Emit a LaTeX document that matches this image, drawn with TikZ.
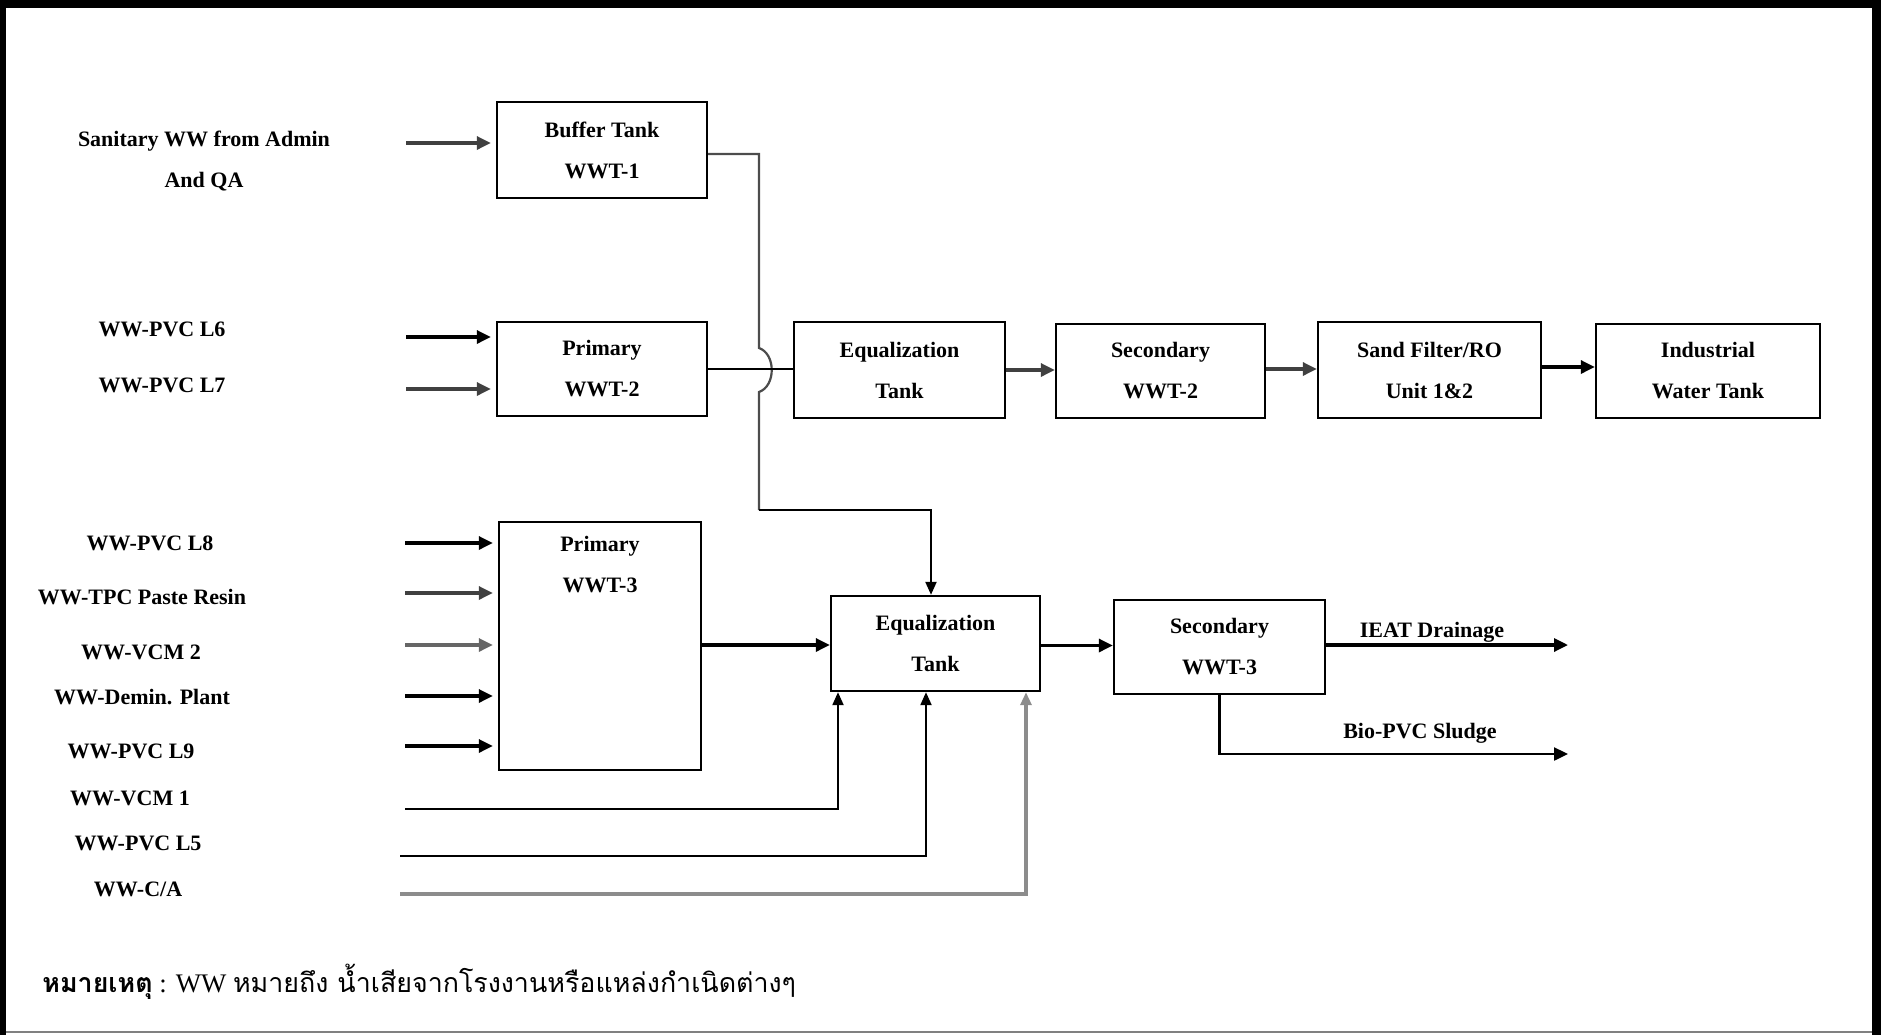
\documentclass[tikz,border=0pt]{standalone}
\usepackage{fontspec}
\setmainfont{Liberation Serif}
\newfontfamily\thaifont[Script=Thai]{Loma}
\usetikzlibrary{arrows.meta,calc}
\begin{document}
\begin{tikzpicture}[x=0.5pt,y=-0.5pt,
  box/.style={draw, line width=1.2pt, inner sep=0pt, align=center, font=\bfseries\fontsize{11}{13.5}\selectfont},
  lbl/.style={align=center, inner sep=0pt, font=\bfseries\fontsize{11}{13.5}\selectfont},
  arr/.style={line width=1.6pt, -{Triangle[length=7pt,width=6.5pt]}, shorten >=2.5pt},
  arrin/.style={line width=1.6pt, -{Triangle[length=7pt,width=6.5pt]}},
  conn/.style={line width=1.1pt},
  upline/.style={line width=1.1pt, -{Triangle[length=6.5pt,width=5.5pt]}},
  darkgray/.style={draw=black!75}]
\useasboundingbox (0,0) rectangle (1881,1035);
% frame
\fill[black] (0,0) rectangle (1881,8);
\fill[black] (0,0) rectangle (6,1035);
\fill[black] (1872,0) rectangle (1881,1035);
\draw[black!50, line width=1pt] (6,1032) -- (1872,1032);

% boxes
\node[box, minimum width=105pt, minimum height=48pt] (buf) at (602,150) {Buffer Tank\\[7pt]WWT-1};
\node[box, minimum width=105pt, minimum height=47pt] (p2) at (602,369) {Primary\\[7pt]WWT-2};
\node[box, minimum width=105.5pt, minimum height=48pt] (eq1) at (899.5,370) {Equalization\\[7pt]Tank};
\node[box, minimum width=104.5pt, minimum height=47pt] (sec2) at (1160.5,371) {Secondary\\[7pt]WWT-2};
\node[box, minimum width=111.5pt, minimum height=48pt] (sand) at (1429.5,370) {Sand Filter/RO\\[7pt]Unit 1\&2};
\node[box, minimum width=112pt, minimum height=47pt] (ind) at (1708,371) {Industrial\\[7pt]Water Tank};
\node[box, minimum width=101pt, minimum height=124pt] (p3) at (600,646) {};
\node[lbl] (p3t) at (600,565) {Primary\\[7pt]WWT-3};
\node[box, minimum width=104.5pt, minimum height=47.5pt] (eq2) at (935.5,643.5) {Equalization\\[7pt]Tank};
\node[box, minimum width=105.5pt, minimum height=47pt] (sec3) at (1219.5,647) {Secondary\\[7pt]WWT-3};

% input labels
\node[lbl] (l1) at (204,161) {Sanitary WW from Admin\\[7pt]And QA};
\node[lbl] (l2) at (162,329) {WW-PVC L6};
\node[lbl] (l3) at (162,385) {WW-PVC L7};
\node[lbl] (l4) at (150,543) {WW-PVC L8};
\node[lbl] (l5) at (142,597) {WW-TPC Paste Resin};
\node[lbl] (l6) at (141,652) {WW-VCM 2};
\node[lbl] (l7) at (142,697) {WW-Demin. Plant};
\node[lbl] (l8) at (131,751) {WW-PVC L9};
\node[lbl] (l9) at (130,798) {WW-VCM 1};
\node[lbl] (l10) at (138,843) {WW-PVC L5};
\node[lbl] (l11) at (138,889) {WW-C/A};

% input arrow starts
\coordinate (s1) at (406,143);
\coordinate (s2) at (406,337);
\coordinate (s3) at (406,389);
\coordinate (s4) at (405,543);
\coordinate (s5) at (405,593);
\coordinate (s6) at (405,645);
\coordinate (s7) at (405,696);
\coordinate (s8) at (405,746);
\draw[arr, darkgray] (s1) -- (s1 -| buf.west);
\draw[arr] (s2) -- (s2 -| p2.west);
\draw[arr, darkgray] (s3) -- (s3 -| p2.west);
\draw[arr] (s4) -- (s4 -| p3.west);
\draw[arr, darkgray] (s5) -- (s5 -| p3.west);
\draw[arr, black!60] (s6) -- (s6 -| p3.west);
\draw[arr] (s7) -- (s7 -| p3.west);
\draw[arr] (s8) -- (s8 -| p3.west);

% bottom feeds into eq2
\coordinate (s9) at (405,809);
\coordinate (j9) at (838,809);
\coordinate (s10) at (400,856);
\coordinate (j10) at (926,856);
\coordinate (s11) at (400,894);
\coordinate (j11) at (1026,894);
\draw[upline] (s9) -- (j9) -- (j9 |- eq2.south);
\draw[upline] (s10) -- (j10) -- (j10 |- eq2.south);
\draw[upline, black!45, line width=1.6pt] (s11) -- (j11) -- (j11 |- eq2.south);

% buffer tank to eq2 with hop
\coordinate (b1) at (759,154);
\coordinate (h1) at (759,348);
\coordinate (h2) at (759,392);
\coordinate (b2) at (759,510);
\coordinate (b3) at (931,510);
\draw[conn, black!70] ([yshift=-2pt]buf.east) -- (b1) -- (h1) .. controls (776,354) and (776,386) .. (h2) -- (b2);
\draw[upline] (b2) -- (b3) -- (b3 |- eq2.north);

% primary WWT-2 to eq1
\draw[conn] (p2.east) -- (p2.east -| eq1.west);

% top chain
\draw[arrin, darkgray] (eq1.east) -- (eq1.east -| sec2.west);
\draw[arrin, darkgray] ([yshift=1pt]sec2.east) -- ([yshift=1pt]sec2.east -| sand.west);
\draw[arrin] ([yshift=1.5pt]sand.east) -- ([yshift=1.5pt]sand.east -| ind.west);

% lower chain
\draw[arrin] (p3.east |- s6) -- (s6 -| eq2.west);
\draw[arrin] ([yshift=-1pt]eq2.east) -- ([yshift=-1pt]eq2.east -| sec3.west);

% outputs
\coordinate (o1) at (1568,645);
\coordinate (o2) at (1568,754);
\draw[arrin] (o1 -| sec3.east) -- (o1);
\draw[arrin, line width=1.2pt] (sec3.south) |- (o2);
\node[lbl] (ieat) at (1432,632) {IEAT Drainage};
\node[lbl] (bio) at (1420,733) {Bio-PVC Sludge};

% note
\node[anchor=base west, inner sep=0pt, font=\fontsize{13.4}{15}\selectfont] (note) at (42,992)
  {{\thaifont\bfseries หมายเหตุ} : WW {\thaifont หมายถึง น้ำเสียจากโรงงานหรือแหล่งกำเนิดต่างๆ}};
\end{tikzpicture}
\end{document}
